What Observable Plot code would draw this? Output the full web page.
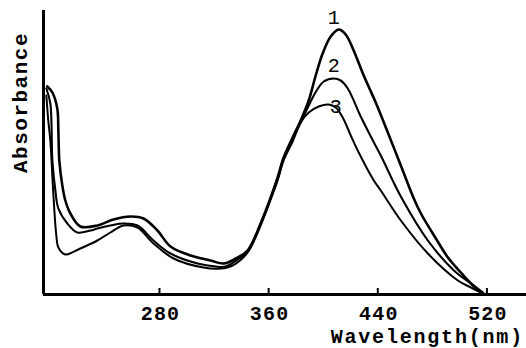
<!DOCTYPE html>
<html>
<head>
<meta charset="utf-8">
<script src="https://cdn.jsdelivr.net/npm/d3@7"></script>
<script src="https://cdn.jsdelivr.net/npm/@observablehq/plot@0.6"></script>
<style>
  html, body { margin: 0; padding: 0; background: #fff; }
  #chart svg { display: block; }
</style>
</head>
<body>
<div id="chart"></div>
<script>
// Curve 1 (wavelength nm, absorbance a.u.)
const wl1 = [197.8,201.5,205.1,205.9,206.6,208.8,211,214.7,222,234.5,246.2,258.7,268.3,278.5,288.1,302.8,317.4,327,335.8,344.6,354.1,361.5,366.6,371,377.6,383.5,389.4,394.5,399.6,405.5,411.4,416.5,421.7,429.7,438.5,445.9,456.9,466.4,471.6,482.6,491.4,500.9,508.3,514.1,518.5];
const abs1 = [1.04,1.01,0.93,0.82,0.67,0.545,0.47,0.405,0.34,0.345,0.375,0.39,0.38,0.32,0.24,0.195,0.17,0.155,0.18,0.22,0.355,0.485,0.585,0.685,0.785,0.87,0.97,1.095,1.205,1.29,1.325,1.30,1.23,1.095,0.96,0.835,0.645,0.48,0.405,0.28,0.185,0.11,0.055,0.02,0.0];
// Curve 2
const wl2 = [197.1,200,201.5,203.7,205.9,212.5,219.8,229.4,234.5,244,253.6,263.9,275.6,288.1,307.9,321.1,328.4,339.5,344.6,354.1,361.5,366.6,371,377.6,383.5,389.4,395.2,400.4,407.7,412.8,418,427.5,434.9,442.2,456.9,476.7,495.8,508.3,517.1];
const abs2 = [1.03,0.955,0.67,0.52,0.43,0.355,0.31,0.32,0.33,0.345,0.355,0.345,0.27,0.205,0.155,0.14,0.14,0.185,0.215,0.35,0.48,0.58,0.68,0.775,0.86,0.945,1.02,1.065,1.08,1.07,1.03,0.89,0.79,0.695,0.49,0.27,0.12,0.055,0.01];
// Curve 3
const wl3 = [197.1,198.5,200,202.2,204.4,205.9,211,222,234.5,244,253.6,263.9,275.6,290.3,312.3,324.8,333.6,344.6,354.1,361.5,366.6,371,377.6,383.5,389.4,396.7,404,409.2,414.3,420.2,425.3,437.1,442.2,456.9,476.7,498.7,508.3,515.6];
const abs3 = [0.995,0.87,0.77,0.505,0.295,0.235,0.20,0.23,0.27,0.31,0.345,0.335,0.255,0.18,0.135,0.13,0.145,0.21,0.345,0.475,0.57,0.67,0.765,0.86,0.91,0.94,0.95,0.935,0.885,0.795,0.72,0.57,0.52,0.37,0.205,0.07,0.035,0.01];

const xTicks = [280, 360, 440, 520];
const curveNames = ["1", "2", "3"];
const curveLabelWl = [407.7, 407.7, 409.2];
const curveLabelAbs = [1.385, 1.145, 0.94];
const xTitle = ["Wavelength(nm)"];
const yTitle = ["Absorbance"];

const series = [[wl1, abs1], [wl2, abs2], [wl3, abs3]].map(([w, a], i) =>
  w.map((x, j) => ({x, y: a[j], s: curveNames[i]})));
const widths = {"1": 2.6, "2": 2.1, "3": 2.0};

const font = "Liberation Mono, DejaVu Sans Mono, monospace";

const chart = Plot.plot({
  width: 526,
  height: 348,
  marginLeft: 43,
  marginRight: 0,
  marginTop: 10,
  marginBottom: 54,
  x: {domain: [195, 549], axis: null},
  y: {domain: [0, 1.42], axis: null},
  style: {background: "#fff"},
  marks: [
    ...series.map(d => Plot.line(d, {x: "x", y: "y", curve: "catmull-rom", stroke: "#000", strokeWidth: widths[d[0].s], strokeLinejoin: "round"})),
    Plot.ruleY([0], {stroke: "#000", strokeWidth: 3}),
    Plot.ruleX([195], {stroke: "#000", strokeWidth: 3}),
    Plot.ruleX(xTicks, {x: d => d, y1: 0, y2: 0.03, stroke: "#000", strokeWidth: 2}),
    Plot.text(xTicks, {x: d => d, y: 0, text: d => String(d), dy: 19, dx: 1, fontSize: 20, fontWeight: "bold", fontFamily: font, fill: "#000", lineAnchor: "middle", className: "ticklab"}),
    Plot.text(xTitle, {x: 405.5, y: 0, text: d => d, dy: 42, textAnchor: "start", fontSize: 20, fontWeight: "bold", fontFamily: font, fill: "#000", lineAnchor: "middle", className: "xtitle"}),
    Plot.text(yTitle, {x: 195, y: 0.96, text: d => d, dx: -23, rotate: -90, fontSize: 21, fontWeight: "bold", fontFamily: font, fill: "#000", lineAnchor: "middle", className: "ytitle"}),
    Plot.text(curveNames, {x: (d, i) => curveLabelWl[i], y: (d, i) => curveLabelAbs[i], text: d => d, fontSize: 20, fontFamily: font, fill: "#000", lineAnchor: "middle"})
  ]
});
d3.select(chart).selectAll(".ticklab text").style("letter-spacing", "1.2px");
d3.select(chart).selectAll(".xtitle text").style("letter-spacing", "1.8px");
d3.select(chart).selectAll(".ytitle text").style("letter-spacing", "1.5px");
document.getElementById("chart").appendChild(chart);
</script>
</body>
</html>
